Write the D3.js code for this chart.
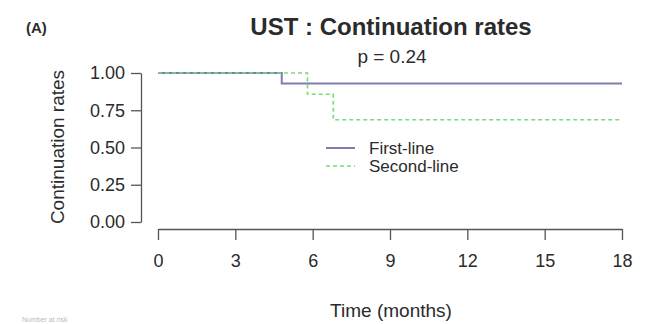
<!DOCTYPE html>
<html>
<head>
<meta charset="utf-8">
<script src="https://cdn.jsdelivr.net/npm/d3@7"></script>
<style>
  body { margin: 0; background: #fff; }
  text { font-family: "Liberation Sans", Arial, sans-serif; fill: #2b2b2b; }
</style>
</head>
<body>
<svg id="km" width="651" height="324"></svg>
<script>
// Kaplan-Meier style step curves
const groups = ["First-line", "Second-line"];
const firstTimes = [0, 4.8, 18];
const firstRates = [1, 0.929, 0.929];
const secondTimes = [0, 5.8, 6.8, 18];
const secondRates = [1, 0.857, 0.686, 0.686];
const xTicks = [0, 3, 6, 9, 12, 15, 18];
const yTicks = [0, 0.25, 0.5, 0.75, 1];

{
const svg = d3.select("#km");

const x = d3.scaleLinear().domain([0, 18]).range([158, 622]);
const y = d3.scaleLinear().domain([0, 1]).range([222, 73]);

const colors = { "First-line": "#7b7db4", "Second-line": "#79dc79" };
const dashes = { "First-line": null, "Second-line": "4,3" };
const widths = { "First-line": 2, "Second-line": 1.6 };

const series = [
    { name: groups[0], pts: firstTimes.map((t, i) => [t, firstRates[i]]) },
    { name: groups[1], pts: secondTimes.map((t, i) => [t, secondRates[i]]) }
];

// axes
const xAxis = svg.append("g")
    .attr("transform", "translate(0,229)")
    .call(d3.axisBottom(x).tickValues(xTicks).tickSize(11).tickPadding(14).tickSizeOuter(0));
const yAxis = svg.append("g")
    .attr("transform", "translate(141,0)")
    .call(d3.axisLeft(y).tickValues(yTicks).tickFormat(d3.format(".2f")).tickSize(10).tickPadding(6).tickSizeOuter(0));

[xAxis, yAxis].forEach(a => {
    a.select(".domain").attr("stroke", "#555").attr("stroke-width", 1.3);
    a.selectAll(".tick line").attr("stroke", "#555").attr("stroke-width", 1.3);
    a.selectAll(".tick text").style("font-size", "18px").attr("fill", "#2b2b2b")
        .style("font-family", "'Liberation Sans', Arial, sans-serif");
});

// curves (second-line drawn on top, as in the original)
const line = d3.line()
    .x(d => x(d[0]))
    .y(d => y(d[1]))
    .curve(d3.curveStepAfter);

svg.selectAll(".curve")
    .data(series)
    .enter().append("path")
    .attr("class", "curve")
    .attr("d", d => line(d.pts))
    .attr("fill", "none")
    .attr("stroke", d => colors[d.name])
    .attr("stroke-width", d => widths[d.name])
    .attr("stroke-dasharray", d => dashes[d.name]);

// legend
const leg = svg.append("g").attr("transform", "translate(326,148)");
groups.forEach((g, i) => {
    leg.append("line")
        .attr("x1", 0).attr("x2", 29)
        .attr("y1", i * 18).attr("y2", i * 18)
        .attr("stroke", colors[g])
        .attr("stroke-width", widths[g])
        .attr("stroke-dasharray", dashes[g]);
    leg.append("text")
        .attr("x", 43).attr("y", i * 18 + 6)
        .style("font-size", "17px")
        .text(g);
});

// titles
svg.append("text")
    .attr("x", 391).attr("y", 35)
    .attr("text-anchor", "middle")
    .style("font-size", "24px").style("font-weight", "bold")
    .text("UST : Continuation rates");

svg.append("text")
    .attr("x", 26).attr("y", 33)
    .style("font-size", "15px").style("font-weight", "bold")
    .text("(A)");

svg.append("text")
    .attr("x", 392).attr("y", 63)
    .attr("text-anchor", "middle")
    .style("font-size", "19px")
    .text("p = 0.24");

svg.append("text")
    .attr("x", 391).attr("y", 317)
    .attr("text-anchor", "middle")
    .style("font-size", "19px")
    .text("Time (months)");

svg.append("text")
    .attr("transform", "translate(64,147) rotate(-90)")
    .attr("text-anchor", "middle")
    .style("font-size", "19px")
    .text("Continuation rates");

// faint risk table heading at the bottom edge
svg.append("text")
    .attr("x", 22).attr("y", 322)
    .style("font-size", "7px")
    .style("fill", "#bbb")
    .text("Number at risk");
}
</script>
</body>
</html>
